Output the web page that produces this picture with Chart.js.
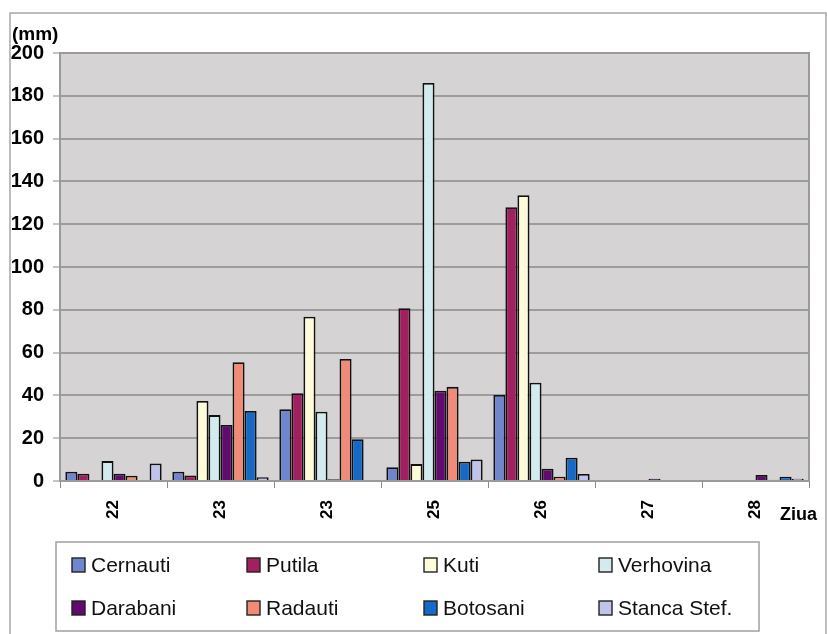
<!DOCTYPE html>
<html>
<head>
<meta charset="utf-8">
<script src="https://cdn.jsdelivr.net/npm/chart.js@4/dist/chart.umd.min.js"></script>
<style>
  html, body { margin: 0; padding: 0; background: #ffffff; }
  #wrap { position: relative; width: 827px; height: 634px; }
</style>
</head>
<body>
<div id="wrap"><canvas id="c" width="827" height="634"></canvas></div>
<script>
// Daily precipitation (mm) per station
const days = ["22", "23", "23", "25", "26", "27", "28"];

const cernauti  = [4.3, 4.3, 33.5, 6.4, 40.2, 0, 0];
const putila    = [3.4, 2.6, 41, 80.7, 127.9, 0, 0];
const kuti      = [0, 37.4, 76.8, 7.9, 133.5, 0, 0];
const verhovina = [9.3, 30.8, 32.4, 186, 45.9, 0, 0];
const darabani  = [3.4, 26.2, 0.8, 42.2, 5.7, 1, 2.8];
const radauti   = [2.5, 55.5, 57, 44, 2, 0, 0.6];
const botosani  = [0, 32.7, 19.5, 9, 10.9, 0, 2];
const stanca    = [8.2, 1.7, 0, 10.1, 3.3, 0, 1];

const yTicks = [0, 20, 40, 60, 80, 100, 120, 140, 160, 180, 200];

const series = [
  ["Cernauti", cernauti, "#6f86cc"],
  ["Putila", putila, "#a2205f"],
  ["Kuti", kuti, "#fdfbd9"],
  ["Verhovina", verhovina, "#d3eaef"],
  ["Darabani", darabani, "#620b6e"],
  ["Radauti", radauti, "#f08b78"],
  ["Botosani", botosani, "#166ac6"],
  ["Stanca Stef.", stanca, "#c0c4ea"]
];

const FONT = "'Liberation Sans', Arial, sans-serif";

// Frame, plot background, unit labels and the boxed legend
const decor = {
  id: "decor",
  beforeDraw(chart) {
    const { ctx, chartArea: a } = chart;
    ctx.save();
    ctx.fillStyle = "#d5d3d4";
    ctx.fillRect(a.left, a.top, a.right - a.left, a.bottom - a.top);
    ctx.restore();
  },
  afterDraw(chart) {
    const { ctx, chartArea: a } = chart;
    ctx.save();
    // plot border (top and right)
    ctx.strokeStyle = "#9a9a9a";
    ctx.lineWidth = 2;
    ctx.beginPath();
    ctx.moveTo(a.left, a.top);
    ctx.lineTo(a.right, a.top);
    ctx.lineTo(a.right, a.bottom);
    ctx.stroke();

    // outer frame
    ctx.strokeStyle = "#a8a8a8";
    ctx.lineWidth = 1.5;
    ctx.strokeRect(10, 13, 816, 640);

    // axis captions
    ctx.fillStyle = "#000";
    ctx.font = "bold 19px " + FONT;
    ctx.textBaseline = "alphabetic";
    ctx.textAlign = "left";
    ctx.fillText("(mm)", 12, 40);
    ctx.font = "bold 18px " + FONT;
    ctx.fillText("Ziua", 780, 520);

    // legend box
    ctx.strokeStyle = "#a0a0a0";
    ctx.lineWidth = 1.5;
    ctx.fillStyle = "#ffffff";
    ctx.fillRect(56, 542, 703, 89);
    ctx.strokeRect(56, 542, 703, 89);

    const cols = [72, 247, 424, 599];
    const rows = [565, 608];
    ctx.font = "21px " + FONT;
    ctx.textBaseline = "middle";
    chart.data.datasets.forEach((ds, i) => {
      const x = cols[i % 4];
      const y = rows[Math.floor(i / 4)];
      ctx.fillStyle = ds.backgroundColor;
      ctx.fillRect(x, y - 7, 13, 14);
      ctx.strokeStyle = "#222";
      ctx.lineWidth = 1.4;
      ctx.strokeRect(x, y - 7, 13, 14);
      ctx.fillStyle = "#111";
      ctx.fillText(ds.label, x + 19, y + 1);
    });
    ctx.restore();
  }
};

new Chart(document.getElementById("c"), {
  type: "bar",
  data: {
    labels: days,
    datasets: series.map(([label, data, color]) => ({
      label,
      data,
      backgroundColor: color,
      borderColor: "#111111",
      borderWidth: 1.8,
      borderSkipped: "start",
      categoryPercentage: 0.9,
      barPercentage: 1.0
    }))
  },
  options: {
    responsive: false,
    animation: false,
    devicePixelRatio: 1,
    layout: { padding: { left: 10, top: 53, right: 18, bottom: 113 } },
    plugins: {
      legend: { display: false },
      tooltip: { enabled: false }
    },
    scales: {
      x: {
        offset: true,
        grid: {
          offset: true,
          drawOnChartArea: false,
          drawTicks: true,
          tickLength: 7,
          color: "#8a8a8a",
          lineWidth: 1
        },
        border: { display: true, color: "#9a9a9a", width: 2 },
        ticks: {
          minRotation: 90,
          maxRotation: 90,
          padding: 12,
          color: "#000",
          font: { family: FONT, size: 17, weight: "bold" }
        },
        afterFit(scale) { scale.height = 40; }
      },
      y: {
        min: 0,
        max: 200,
        afterBuildTicks(scale) { scale.ticks = yTicks.map(v => ({ value: v })); },
        grid: {
          color: "#9c9c9c",
          lineWidth: 2,
          tickLength: 7,
          tickColor: "#8a8a8a",
          tickWidth: 1
        },
        border: { display: true, color: "#9a9a9a", width: 2 },
        ticks: {
          padding: 9,
          color: "#000",
          font: { family: FONT, size: 20, weight: "bold" }
        },
        afterFit(scale) { scale.width = 50; }
      }
    }
  },
  plugins: [decor]
});
</script>
</body>
</html>
